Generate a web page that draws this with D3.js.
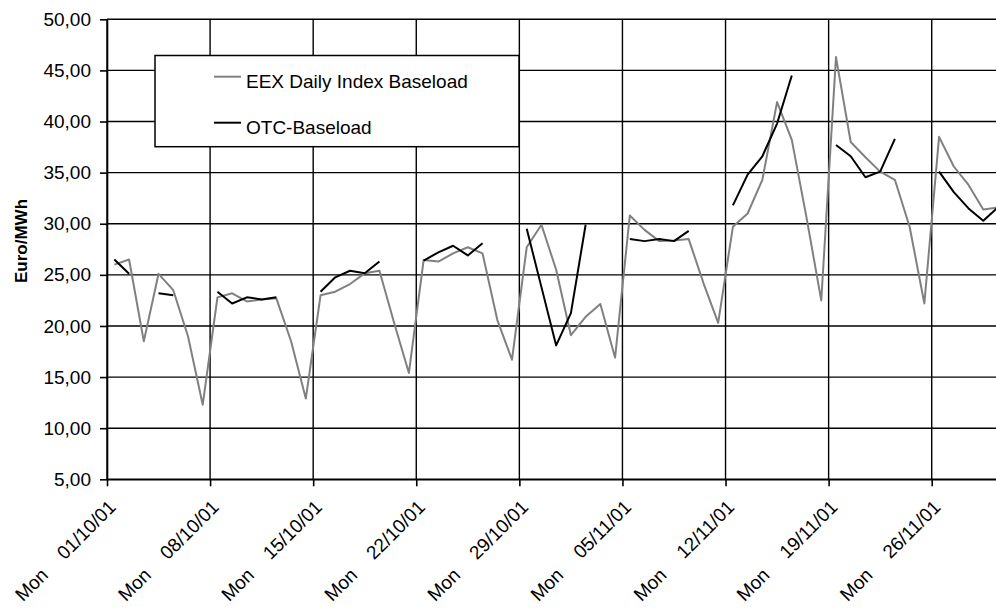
<!DOCTYPE html>
<html>
<head>
<meta charset="utf-8">
<script src="https://cdn.jsdelivr.net/npm/d3@7"></script>
<style>
  body { margin: 0; background: #fff; }
  svg { display: block; }
  text { font-family: "Liberation Sans", Arial, sans-serif; fill: #000; }
</style>
</head>
<body>
<svg id="chart" width="996" height="609"></svg>
<script>
// Daily prices, 01/10/01 .. 30/11/01 (one value per calendar day)
const eexDaily = [
  26.0, 26.5, 18.5, 25.1, 23.5, 19.0, 12.3,
  22.8, 23.2, 22.4, 22.6, 22.7, 18.5, 12.9,
  23.0, 23.35, 24.1, 25.15, 25.4, 20.3, 15.4,
  26.45, 26.3, 27.1, 27.7, 27.1, 20.6, 16.7,
  27.7, 29.9, 25.5, 19.1, 20.9, 22.15, 16.9,
  30.8, 29.4, 28.3, 28.35, 28.5, 24.2, 20.3,
  29.7, 31.0, 34.3, 41.9, 38.2, 30.6, 22.5,
  46.3, 38.0, 36.5, 35.1, 34.3, 29.7, 22.2,
  38.5, 35.6, 33.8, 31.4, 31.6
];
// OTC baseload: traded on working days only (null = no quote)
const otcBaseload = [
  26.5, 25.1, null, 23.2, 23.0, null, null,
  23.35, 22.2, 22.8, 22.6, 22.8, null, null,
  23.35, 24.76, 25.4, 25.15, 26.3, null, null,
  26.4, 27.2, 27.85, 26.9, 28.1, null, null,
  29.5, 23.8, 18.1, 21.25, 29.9, null, null,
  28.5, 28.3, 28.5, 28.3, 29.3, null, null,
  31.8, 34.8, 36.6, 39.8, 44.5, null, null,
  37.7, 36.6, 34.55, 35.1, 38.3, null, null,
  35.1, 33.1, 31.5, 30.3, 31.6
];
const mondayIndex = [0, 7, 14, 21, 28, 35, 42, 49, 56];
const mondayLabels = ["01/10/01", "08/10/01", "15/10/01", "22/10/01", "29/10/01",
                      "05/11/01", "12/11/01", "19/11/01", "26/11/01"];
const weekdayName = "Mon";
const yTicks = [5, 10, 15, 20, 25, 30, 35, 40, 45, 50];
const seriesNames = ["EEX Daily Index Baseload", "OTC-Baseload"];
const seriesColors = ["#808080", "#000000"];

const svg = d3.select("#chart");
const plotLeft = 107, plotTop = 19.3, plotBottom = 479.3;
const dayWidth = 14.727;
const nDays = eexDaily.length;

const x = d3.scaleLinear().domain([0, nDays]).range([plotLeft, plotLeft + nDays * dayWidth]);
const y = d3.scaleLinear().domain([5, 50]).range([plotBottom, plotTop]);
const fmt = v => d3.format(".2f")(v).replace(".", ",");

// grid
const grid = svg.append("g").attr("stroke", "#000").attr("stroke-width", 1.4);
grid.selectAll("line.h").data(yTicks).join("line").attr("class", "h")
  .attr("x1", plotLeft).attr("x2", x(nDays))
  .attr("y1", d => y(d)).attr("y2", d => y(d));
grid.selectAll("line.v").data(mondayIndex).join("line").attr("class", "v")
  .attr("x1", d => x(d)).attr("x2", d => x(d))
  .attr("y1", plotTop).attr("y2", plotBottom);

// y axis
const yAxis = svg.append("g").attr("transform", `translate(${plotLeft},0)`)
  .call(d3.axisLeft(y).tickValues(yTicks).tickSize(7).tickSizeOuter(0).tickPadding(9).tickFormat(fmt));
yAxis.selectAll("path, line").attr("stroke", "#000").attr("stroke-width", 1.6);
yAxis.selectAll("text").attr("font-size", 19).attr("font-family", "Liberation Sans, Arial, sans-serif").attr("fill", "#000");

// x axis (ticks on Mondays)
const xAxis = svg.append("g").attr("transform", `translate(0,${plotBottom})`)
  .call(d3.axisBottom(x).tickValues(mondayIndex).tickSize(7).tickSizeOuter(0).tickFormat(""));
xAxis.selectAll("path, line").attr("stroke", "#000").attr("stroke-width", 1.6);

// slanted category labels: weekday and date on one 45° baseline
const c45 = Math.SQRT1_2;
const labels = svg.append("g");
mondayIndex.forEach((d, i) => {
  const ax = x(d) + 10, ay = plotBottom + 29;
  const m = `matrix(${c45},${-c45},${c45},${c45},${ax},${ay})`;
  labels.append("text").attr("transform", m)
    .attr("text-anchor", "end").attr("font-size", 19)
    .text(mondayLabels[i]);
  labels.append("text").attr("transform", m).attr("x", -96)
    .attr("text-anchor", "end").attr("font-size", 19)
    .text(weekdayName);
});

// y title
svg.append("text")
  .attr("transform", `translate(26.5,241) rotate(-90)`)
  .attr("text-anchor", "middle")
  .attr("font-size", 17).attr("font-weight", "bold")
  .text("Euro/MWh");

// series lines
const line = d3.line()
  .defined(v => v != null)
  .x((v, i) => x(i + 0.5))
  .y(v => y(v));

svg.append("path").datum(eexDaily)
  .attr("fill", "none").attr("stroke", seriesColors[0]).attr("stroke-width", 2)
  .attr("stroke-linejoin", "round").attr("d", line);
svg.append("path").datum(otcBaseload)
  .attr("fill", "none").attr("stroke", seriesColors[1]).attr("stroke-width", 2)
  .attr("stroke-linejoin", "round").attr("d", line);

// legend
const lg = svg.append("g");
lg.append("rect").attr("x", 155).attr("y", 55.5).attr("width", 364).attr("height", 91.2)
  .attr("fill", "#fff").attr("stroke", "#000").attr("stroke-width", 1.5);
seriesNames.forEach((name, i) => {
  const cy = 76.7 + i * 46;
  lg.append("line").attr("x1", 214).attr("x2", 241).attr("y1", cy).attr("y2", cy)
    .attr("stroke", seriesColors[i]).attr("stroke-width", 2);
  lg.append("text").attr("x", 246).attr("y", cy + 11.5).attr("font-size", 19).text(name);
});
</script>
</body>
</html>
